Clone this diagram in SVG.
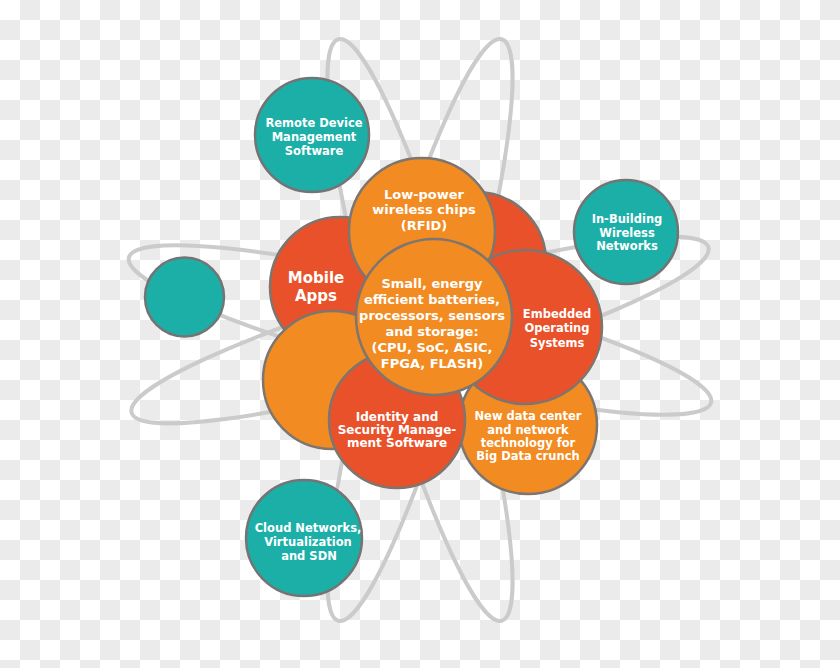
<svg xmlns="http://www.w3.org/2000/svg" width="840" height="668" viewBox="0 0 840 668">
<defs>
<pattern id="chk" width="40" height="40" patternUnits="userSpaceOnUse">
<rect width="40" height="40" fill="#ffffff"/>
<rect x="20" y="0" width="20" height="20" fill="#ebebeb"/>
<rect x="0" y="20" width="20" height="20" fill="#ebebeb"/>
</pattern>
</defs>
<style>
.orbit{fill:none;stroke:#cbcbcb;stroke-width:4}
.teal{fill:#1bafa8;stroke:#747474;stroke-width:2.5}
.org{fill:#f28b21;stroke:#7d7670;stroke-width:2.5}
.red{fill:#e9512a;stroke:#7d7670;stroke-width:2.5}
text{font-family:"DejaVu Sans","Verdana",sans-serif;font-weight:bold;fill:#ffffff;text-anchor:middle}
.s115{font-size:11.5px}
.s12{font-size:12px}
.s13{font-size:13px}
.s15{font-size:15px}
</style>
<rect width="840" height="668" fill="url(#chk)"/>
<g id="orbits">
<ellipse class="orbit" cx="420" cy="330" rx="300" ry="45" transform="rotate(14 420 330)"/>
<ellipse class="orbit" cx="420" cy="330" rx="300" ry="45" transform="rotate(-16 420 330)"/>
<ellipse class="orbit" cx="420" cy="330" rx="302" ry="45" transform="rotate(74.3 420 330)"/>
<ellipse class="orbit" cx="420" cy="330" rx="302" ry="45" transform="rotate(105.7 420 330)"/>
</g>
<g id="remote">
<circle class="teal" cx="312" cy="135" r="57"/>
<text class="s115" x="314" y="127">Remote Device</text>
<text class="s115" x="314" y="141">Management</text>
<text class="s115" x="314" y="155">Software</text>
</g>
<g id="inbuilding">
<circle class="teal" cx="626" cy="232" r="52"/>
<text class="s115" x="627" y="223">In-Building</text>
<text class="s115" x="627" y="236.5">Wireless</text>
<text class="s115" x="627" y="250">Networks</text>
</g>
<g id="small-teal">
<circle class="teal" cx="184.5" cy="297" r="39.5"/>
</g>
<g id="cloud">
<circle class="teal" cx="304" cy="538" r="58"/>
<text class="s115" x="308" y="531.5">Cloud Networks,</text>
<text class="s115" x="308" y="546">Virtualization</text>
<text class="s115" x="309" y="560">and SDN</text>
</g>
<g id="red-top">
<circle class="red" cx="476" cy="262" r="70"/>
</g>
<g id="mobile">
<circle class="red" cx="340" cy="287" r="70"/>
<text class="s15" x="316" y="282.5">Mobile</text>
<text class="s15" x="316" y="300.5">Apps</text>
</g>
<g id="rfid">
<circle class="org" cx="422" cy="231" r="73"/>
<text class="s13" x="424" y="198.5">Low-power</text>
<text class="s13" x="424" y="214">wireless chips</text>
<text class="s13" x="424" y="229.5">(RFID)</text>
</g>
<g id="orange-left">
<circle class="org" cx="332" cy="380" r="69"/>
</g>
<g id="newdata">
<circle class="org" cx="528" cy="425" r="69"/>
<text class="s115" x="528" y="420">New data center</text>
<text class="s115" x="528" y="434">and network</text>
<text class="s115" x="528" y="447">technology for</text>
<text class="s115" x="528" y="460">Big Data crunch</text>
</g>
<g id="embedded">
<circle class="red" cx="525" cy="327" r="77"/>
<text class="s115" x="557" y="317.5">Embedded</text>
<text class="s115" x="557" y="332">Operating</text>
<text class="s115" x="557" y="346.5">Systems</text>
</g>
<g id="identity">
<circle class="red" cx="397" cy="420" r="68"/>
<text class="s12" x="397" y="421">Identity and</text>
<text class="s12" x="397" y="434">Security Manage-</text>
<text class="s12" x="397" y="447">ment Software</text>
</g>
<g id="center">
<circle class="org" cx="434" cy="317" r="78"/>
<text class="s13" x="432" y="288">Small, energy</text>
<text class="s13" x="432" y="304">efficient batteries,</text>
<text class="s13" x="432" y="320">processors, sensors</text>
<text class="s13" x="432" y="336">and storage:</text>
<text class="s13" x="432" y="352">(CPU, SoC, ASIC,</text>
<text class="s13" x="432" y="368">FPGA, FLASH)</text>
</g>
</svg>
